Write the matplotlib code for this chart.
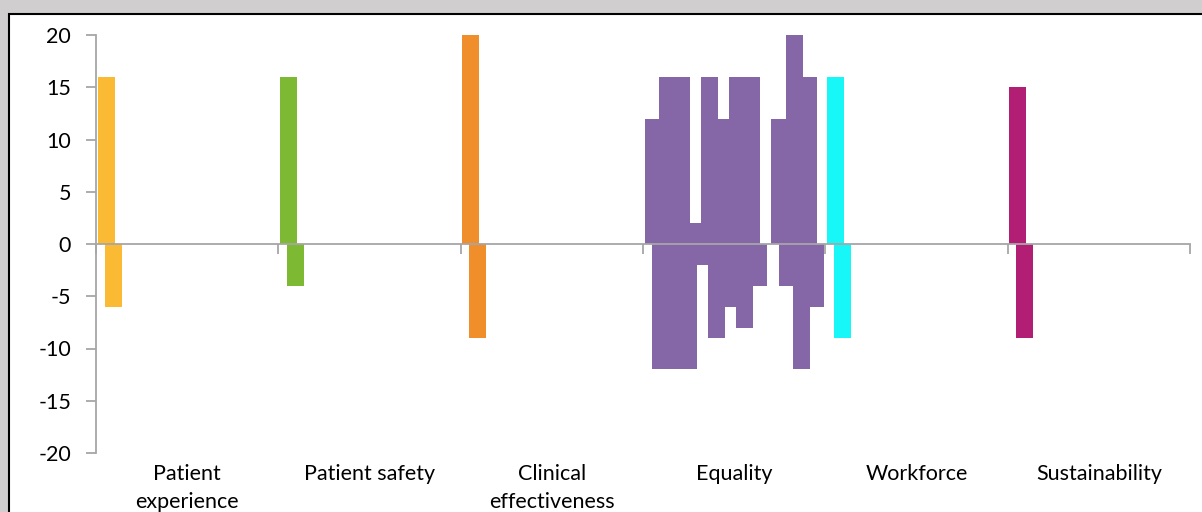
import matplotlib.pyplot as plt
from matplotlib.patches import Rectangle

plt.rcParams['font.family'] = ['Lato', 'DejaVu Sans']

# data: one list per category, series in plotting order
categories = ['Patient\nexperience', 'Patient safety', 'Clinical\neffectiveness',
              'Equality', 'Workforce', 'Sustainability']
patient_experience = [16, -6]
patient_safety = [16, -4]
clinical_effectiveness = [20, -9]
equality = [12, -12, 16, -12, 16, -12, 2, -2, 16, -9, 12, -6,
            16, -8, 16, -4, 0, 0, 12, -4, 20, -12, 16, -6]
workforce = [16, -9]
sustainability = [15, -9]
group_values = [patient_experience, patient_safety, clinical_effectiveness,
                equality, workforce, sustainability]
colors = ['#FBBA33', '#7DB932', '#F08E2C', '#8566A6', '#18F7F7', '#B31E75']
yticks = list(range(-20, 21, 5))

W, H = 1202, 512
fig = plt.figure(figsize=(W / 100, H / 100), dpi=100)
fig.patch.set_facecolor('#D0CECE')
# white chart area with black border on top/left
fig.patches.append(Rectangle((9 / W, -0.1), 1.2, (H - 14) / H + 0.1,
                             transform=fig.transFigure, facecolor='white',
                             edgecolor='black', linewidth=1.5, zorder=-5))

ax = fig.add_axes([96 / W, (H - 453) / H, (1190 - 96) / W, (453 - 35) / H])
ax.set_facecolor('none')

n_slots = 24
bar_w = 17 / 182.4
step = 7.05 / 182.4
margin = (1 - (bar_w + (n_slots - 1) * step)) / 2

for k, vals in enumerate(group_values):
    for i, v in enumerate(vals):
        if v == 0:
            continue
        ax.bar(k + margin + i * step, v, width=bar_w, align='edge',
               color=colors[k], linewidth=0)

ax.set_xlim(0, 6)
ax.set_ylim(-20, 20)
ax.set_yticks(yticks)
ax.set_yticklabels([str(t) for t in yticks], fontsize=15.5)
ax.set_xticks(range(7))
ax.set_xticklabels([])

axis_gray = '#A6A6A6'
for s in ['top', 'right']:
    ax.spines[s].set_visible(False)
ax.spines['left'].set_color(axis_gray)
ax.spines['bottom'].set_color(axis_gray)
ax.spines['left'].set_linewidth(1.3)
ax.spines['bottom'].set_linewidth(1.3)
ax.spines['bottom'].set_position(('data', 0))
ax.tick_params(axis='y', length=7, width=1.3, color=axis_gray, pad=11)
ax.tick_params(axis='x', length=7, width=1.3, color=axis_gray)

for k, lab in enumerate(categories):
    ax.text(k + 0.5, -21.1, lab, ha='center', va='top', fontsize=15.5,
            linespacing=1.5, multialignment='center')

fig.savefig('out.png', dpi=100, facecolor=fig.get_facecolor())
